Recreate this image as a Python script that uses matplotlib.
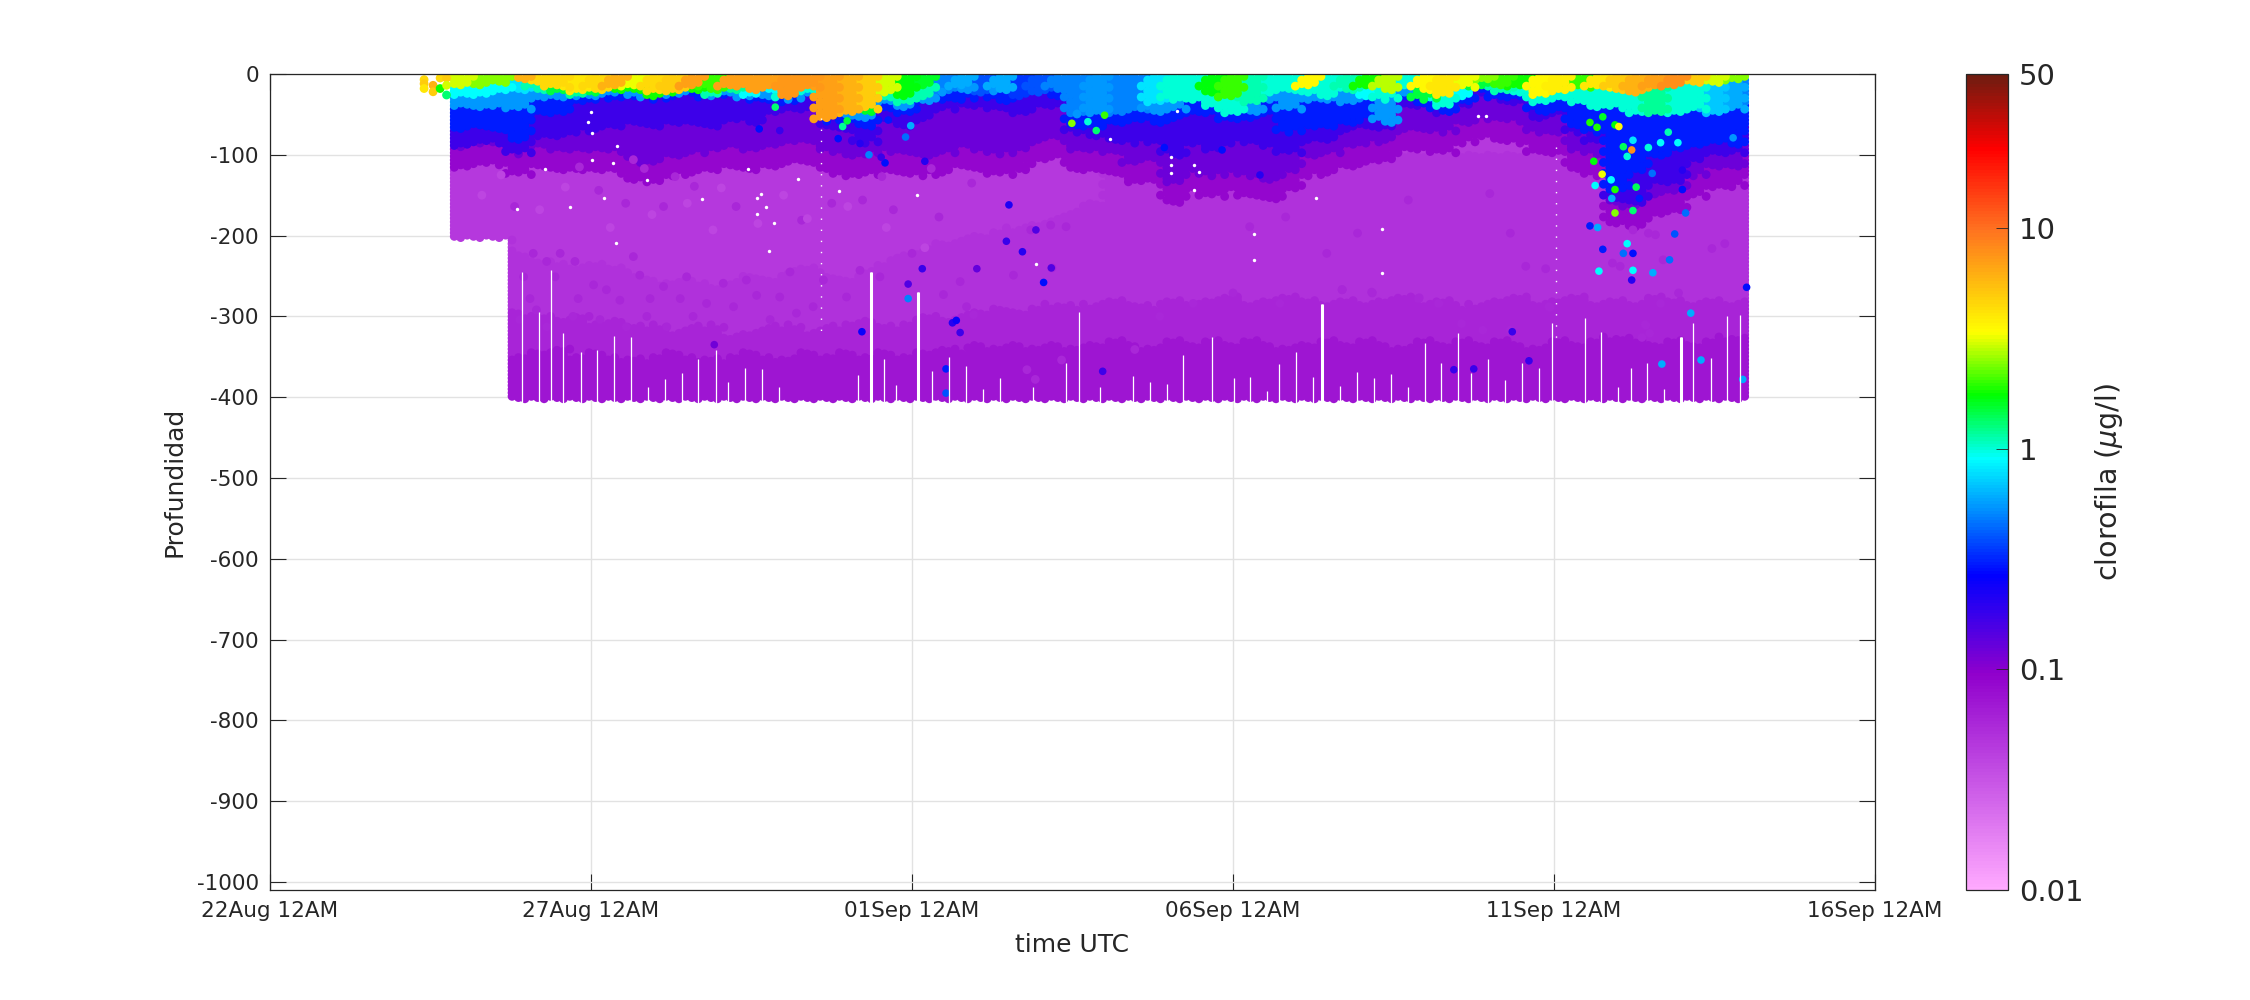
import numpy as np
import matplotlib
matplotlib.use("Agg")
import matplotlib.pyplot as plt
from matplotlib.colors import LinearSegmentedColormap, LogNorm

# ---- data (days since 22 Aug 12AM, depth in metres) ----
first_day = 2.87
surf_val = [3,2.5,2.5,6,4.5,4.5,4,4.5,6,3.2,4.5,5,7,2,7,7,7,7.5,7.5,7,6,5,3,1.7,1.6,.5,.6,.4,.6,.35,.4,.5,.5,.55,
            .5,.5,.8,1,1,1.7,2,1.1,1,1,3.5,1,1.1,1.8,2.8,1,3.5,4,3.2,2.5,2,1.8,3.5,3.8,2,4,5,6,7,8,5,3,2.5,1.3]
surf_bot = [14,14,12,7,12,18,22,20,16,16,22,22,16,20,16,20,16,28,18,57,49,45,24,28,16,22,16,24,20,28,24,20,49,47,
            49,45,36,32,32,24,30,36,24,20,16,28,20,16,20,14,20,26,18,9,14,16,26,22,18,18,20,24,16,16,12,12,9,7]
cyan_val = [.9,.9,.9,.8,1.1,1.5,1.2,1.5,1.8,1.8,1.8,1.8,1.8,1.1,1.2,.9,.9,1,1,2,2,1.6,1.1,1.1,1.1,.5,.6,.4,.6,.35,.4,.5,.5,.55,
            .5,.5,.8,1,1,1,1,1.1,.9,.9,1,1,1.1,.9,1,1,1.5,1,.9,1.5,1.1,1,1,1,1,1,1,1,1.2,1,1,.7,.6,.5]
cyan_bot = [26,26,22,20,20,22,26,24,20,20,28,24,20,26,20,26,20,30,22,57,49,47,28,36,30,22,16,24,20,28,24,20,49,47,
            49,45,36,32,32,40,49,36,24,20,24,28,20,28,32,14,32,40,30,16,22,24,36,30,36,42,40,49,49,49,45,49,45,36]
azure_bot = [40,42,40,45,30,30,30,28,24,26,30,26,22,28,24,30,28,32,24,57,52,55,36,42,34,24,20,24,22,28,24,20,51,49,
             49,45,47,45,32,40,49,47,32,45,32,32,36,28,61,24,32,40,30,16,22,24,36,30,36,42,40,49,49,49,45,49,45,36]
blue_bot = [69,65,69,82,49,49,36,32,28,30,32,28,24,30,26,32,32,36,24,59,55,65,45,49,36,32,32,24,34,28,24,28,65,65,
            61,57,61,57,49,49,57,57,49,73,65,65,61,53,61,28,38,47,36,20,30,30,47,42,65,73,144,119,102,94,90,82,88,65]
indigo_bot = [90,84,88,98,78,78,73,69,65,61,65,61,61,65,57,61,49,45,45,65,69,86,57,65,57,45,38,40,45,49,40,40,73,78,
              82,86,82,102,86,94,86,82,90,98,82,82,69,65,67,38,40,49,38,24,34,36,55,49,73,84,156,160,135,135,106,98,98,86]
purple_bot = [91,86,88,100,90,94,94,94,94,106,110,102,98,94,90,94,90,84,84,94,102,100,94,98,102,98,90,94,100,94,82,78,94,94,
              98,110,106,135,119,127,119,127,131,119,102,98,90,86,82,69,69,73,61,53,57,61,73,73,94,102,160,165,150,145,127,115,115,98]
light_bot = [203,203,203,225,230,235,240,235,240,250,255,260,255,265,260,250,255,245,240,250,255,245,235,225,220,
             210,205,200,195,190,185,180,170,160] + [100]*34
mid_bot = [290,295,300,295,300,305,300,310,305,315,310,320,315,310,325,320,315,310,320,315,310,305,315,310,300,
           305,300,295,290,295,290,285,290,285,280,285,290,280,285,280,275,285,280,275,280,285,280,
           285,280,275,285,280,290,285,280,275,285,280,275,285,280,285,275,280,285,280,285,280]
dark_bot = [345,340,345,350,345,340,350,345,350,355,350,345,350,355,350,345,350,355,345,350,345,350,345,350,345,
            340,345,335,340,335,340,335,340,335,330,335,340,330,335,330,335,330,335,340,335,330,335,
            330,335,340,330,335,330,335,330,335,340,330,335,330,325,330,335,330,335,330,325,330]
band_vals = [0.30, 0.55, 0.17, 0.125, 0.088, 0.045, 0.050, 0.060, 0.072]
purple_tail = 25
step_day = 3.75
shallow_bottom = 203
deep_bottom = 403
n_cols = 202

early_t = [2.40,2.40,2.40,2.54,2.54,2.65,2.65,2.75,2.75,2.75]
early_z = [7,12,18,14,22,5,18,5,14,26]
early_v = [4.5,5,4,6,5,4.5,1.8,5,3,1.3]

odd_t = [7.87,7.62,7.94,8.85,8.92,8.99,9.19,9.33,9.58,9.52,9.98,9.90,10.2,9.63,12.49,12.74,12.87,13.0,13.93,14.83,15.42,
         20.56,20.67,20.95,21.01,20.76,21.08,21.21,21.14,20.62,20.75,20.64,20.89,20.95,21.28,21.47,21.66,21.78,21.93,22.79,21.23,22.0,22.0,20.9,21.33,
         20.95,21.23,20.56,20.68,21.14,20.76,21.08,21.23,21.8,20.7,21.23,21.54,21.21,23.0,22.13,22.05,21.88,21.53,
         11.51,11.47,11.72,12.05,12.17,11.93,10.16,9.94,9.94,10.63,10.69,10.53,10.53,10.75,12.97,9.22,11.01,
         21.68,22.29,22.94,18.44,18.75,19.35,19.61,6.92]
odd_z = [41,68,70,80,65,58,86,100,110,103,64,78,108,57,61,59,70,51,91,94,125,
         60,66,63,65,53,90,94,102,108,124,138,131,143,140,91,85,72,85,79,82,143,119,154,154,
         172,169,188,190,210,217,222,222,230,244,243,246,255,264,296,172,198,123,
         162,207,220,258,240,193,241,278,260,308,305,365,395,320,368,319,241,
         359,354,378,366,365,319,355,335]
odd_v = [1.3,.28,.18,.28,1.2,1.5,.2,.5,.28,.18,.6,.45,.2,.3,2.5,1,1.3,2,.28,.28,.2,
         1.9,1.9,1.7,3.5,1.6,1.4,8,1,1.7,3.2,.9,.9,1.9,1.4,1,.9,1.1,.9,.55,.8,.28,.2,.6,.3,
         2.5,1.3,.3,.6,.9,.3,.45,.28,.45,.9,.9,.6,.2,.28,.6,.45,.4,.45,
         .22,.18,.2,.28,.15,.15,.18,.5,.15,.2,.25,.3,.4,.17,.17,.25,.13,
         .6,.6,.6,.18,.18,.18,.18,.12]

dark_spot_t = [3.95,4.31,4.75,4.10,4.52,5.04,4.80,4.44,4.05,5.66,5.45,5.92,6.39,5.76,5.24,6.49,6.13,7.58,7.42,8.10,7.79,7.06,6.59,6.18,
               5.87,5.55,5.14,4.72,4.31,3.89,4.15,7.22,6.80,7.94,8.46,8.98,8.62,9.19,8.20,
               5.54,5.83,6.31,6.61,5.66,3.81,5.12,4.82,6.13,7.26,8.28,8.75,9.53,9.71,10.3,10.93,10.42,10.0,9.23,
               11.85,12.16,12.4,16.7,17.17,17.89,18.2,19.32,18.56,19.92,19.56,19.87,19.32,19.0,17.73,16.46,16.94,15.82,15.26,
               22.46,22.66,21.94,21.66,21.43,21.7,20.91,21.03,21.47,21.23,21.58,
               9.5,10.49,10.75,10.96,11.58,12.18,10.85,11.79,11.92,12.33,13.47,13.86,14.38,15.0,15.73,
               16.7,17.16,17.9,18.21,18.89,19.94,21.42,21.37,21.49]
dark_spot_z = [251,232,232,222,222,261,278,251,278,226,280,278,278,249,267,251,263,274,255,245,304,259,300,313,
               300,313,304,300,313,304,292,288,284,276,288,276,255,243,296,
               160,117,127,139,106,164,144,115,164,164,181,160,127,168,117,135,177,222,156,
               193,187,189,267,271,278,284,317,309,288,238,241,197,148,156,222,197,177,189,
               216,210,271,284,311,230,234,238,197,193,199,
               251,273,257,298,249,240,288,366,378,354,341,300,284,271,284,
               267,270,277,284,317,289,310,326,321]
dark_spot_val = 0.058
light_spot_t = [4.2,5.95,7.03,8.37,9.0,6.9,3.3,3.6,4.6,5.3,6.5,7.6,8.0,9.6,10.2]
light_spot_z = [168,174,141,179,164,193,150,125,140,190,160,185,150,190,215]
light_spot_val = 0.039

gap_t = [3.92,4.19,4.38,4.56,4.84,5.10,5.36,5.62,5.89,6.15,6.41,6.67,6.94,7.13,7.40,7.66,7.93,9.16,9.36,9.56,9.75,10.10,10.31,10.58,
         10.84,11.11,11.37,11.88,12.40,12.60,12.93,13.44,13.71,13.97,14.22,14.67,15.02,15.26,15.53,15.72,15.98,16.25,16.39,16.67,16.93,
         17.20,17.46,17.73,17.99,18.24,18.50,18.71,18.97,19.24,19.50,19.77,19.97,20.48,20.73,21.00,21.20,21.45,21.71,21.98,22.17,22.45,22.70,22.90]
gap_top = [245,294,243,321,344,342,324,326,387,378,370,353,341,381,364,365,387,373,245,353,385,270,368,350,
           362,390,376,387,358,295,387,374,381,384,348,326,376,375,392,359,344,375,285,386,369,
           376,371,387,333,358,321,370,353,379,358,364,308,302,319,387,364,358,390,325,308,352,300,298]
wide_t = [9.36,10.10,16.39,21.98]
wide_top = [245,270,285,325]
speck_t = [5.0,4.95,5.02,5.41,5.02,5.34,4.29,7.45,5.87,8.23,5.21,6.73,7.59,7.65,4.68,3.84,7.72,7.59,7.85,5.39,7.77,8.87,10.08,
           14.13,18.82,18.94,13.08,14.39,14.47,14.39,14.03,14.03,14.03,17.32,17.32,11.93,15.33,15.33,16.3]
speck_z = [47,59,73,89,106,110,117,117,131,130,154,155,154,148,165,167,165,173,184,209,219,145,150,
           46,52,52,80,113,121,143,103,113,122,246,192,235,198,230,153]
dotted_t = [8.58,20.03]
dotted_top = [55,90]
dotted_bot = [320,330]

x_ticks = [0,5,10,15,20,25]
x_labels = ['22Aug 12AM','27Aug 12AM','01Sep 12AM','06Sep 12AM','11Sep 12AM','16Sep 12AM']
y_ticks = list(range(0,-1001,-100))
cb_ticks = [0.01,0.1,1,10,50]
cb_labels = ['0.01','0.1','1','10','50']
cmap_pos = [0,0.264,0.385,0.529,0.607,0.684,0.812,0.909,1]
cmap_col = ['#ffaaff','#9000cc','#0000ff','#00ffff','#00ff00','#ffff00','#ff7020','#ff0000','#6e1c10']

# ---- figure ----
W, H = 2250, 1000
INK = '#262626'
plt.rcParams['font.family'] = 'DejaVu Sans'
fig = plt.figure(figsize=(W/100, H/100), dpi=100)
ax = fig.add_axes([270/W, 1-890/H, (1875-270)/W, (890-74)/H])
cmap = LinearSegmentedColormap.from_list('chl', list(zip(cmap_pos, cmap_col)), N=256)
norm = LogNorm(0.01, 50)


def value_at(i, z):
    if z < surf_bot[i]: return surf_val[i]
    if z < cyan_bot[i]: return cyan_val[i]
    if z < azure_bot[i]: return band_vals[1]
    if z < blue_bot[i]: return band_vals[0]
    if z < indigo_bot[i]: return band_vals[2]
    if z < purple_bot[i]: return band_vals[3]
    if z < purple_bot[i] + purple_tail: return band_vals[4]
    if z < light_bot[i]: return band_vals[5]
    if z < mid_bot[i]: return band_vals[6]
    if z < dark_bot[i]: return band_vals[7]
    return band_vals[8]


ts, zs, vs = [], [], []
last = len(surf_val) - 1
for k in range(n_cols):
    t = first_day + 0.1 * k
    bottom = shallow_bottom if t < step_day else deep_bottom
    z = 3.0 + 1.5 * (k % 3)
    row = 0
    while z <= bottom:
        # each dot takes its value from the nearest read station; rows interlock at station edges
        i = min(max((k + (row % 3) - 1) // 3, 0), last)
        ts.append(t); zs.append(z); vs.append(value_at(i, z))
        z += 4.5
        row += 1

ts, zs, vs = np.array(ts), np.array(zs), np.array(vs)
order = np.argsort(vs, kind='stable')
dot = dict(cmap=cmap, norm=norm, linewidths=0)
ax.scatter(ts[order], -zs[order], c=vs[order], s=40, zorder=2, **dot)
ax.scatter(early_t, -np.array(early_z), c=early_v, s=40, zorder=2, **dot)
ax.scatter(dark_spot_t, -np.array(dark_spot_z), c=[dark_spot_val]*len(dark_spot_t), s=40, zorder=2.1, **dot)
ax.scatter(light_spot_t, -np.array(light_spot_z), c=[light_spot_val]*len(light_spot_t), s=40, zorder=2.1, **dot)
ax.scatter(odd_t, -np.array(odd_z), c=odd_v, s=30, zorder=3, **dot)
ax.vlines(gap_t, -np.array(gap_top), -412, colors='white', linewidths=0.9, zorder=4)
ax.vlines(wide_t, -np.array(wide_top), -412, colors='white', linewidths=2.2, zorder=4)
ax.vlines(dotted_t, -np.array(dotted_top), -np.array(dotted_bot), colors='white', linewidths=1.0,
          linestyles=(0, (1, 7)), zorder=4)
ax.scatter(speck_t, -np.array(speck_z), c='white', s=6, linewidths=0, zorder=4)

ax.set_xlim(0, 25)
ax.set_ylim(-1010, 0)
ax.set_xticks(x_ticks); ax.set_xticklabels(x_labels)
ax.set_yticks(y_ticks)
ax.set_yticklabels([str(v) for v in y_ticks])
ax.grid(True, color='#e2e2e2', linewidth=1.0, zorder=0)
ax.set_axisbelow(True)
ax.tick_params(direction='in', top=True, right=True, length=11.5, width=0.8, color=INK,
               labelcolor=INK, labelsize=15.5, pad=8)
for s in ax.spines.values():
    s.set_color(INK); s.set_linewidth(0.9)
ax.set_xlabel('time UTC', fontsize=18, color=INK)
ax.xaxis.set_label_coords((1072-270)/(1875-270), -(933-890)/(890-74), transform=ax.transAxes)
ax.set_ylabel('Profundidad', fontsize=18, color=INK)
ax.yaxis.set_label_coords((186-270)/(1875-270), (890-482)/(890-74), transform=ax.transAxes)

cax = fig.add_axes([1966/W, 1-890/H, (2008-1966)/W, (890-74)/H])
sm = plt.cm.ScalarMappable(norm=norm, cmap=cmap)
cb = fig.colorbar(sm, cax=cax)
cb.set_ticks(cb_ticks); cb.set_ticklabels(cb_labels)
cb.minorticks_off()
cb.ax.tick_params(direction='in', length=9, width=0.6, color=INK, labelcolor=INK, labelsize=21, pad=8)
cb.outline.set_edgecolor(INK); cb.outline.set_linewidth(0.9)
fig.text(2109/W, 1-482/H, r'clorofila ($\mu$g/l)', rotation=90, ha='center', va='center', fontsize=20.5, color=INK)

fig.savefig('out.png', dpi=100)
